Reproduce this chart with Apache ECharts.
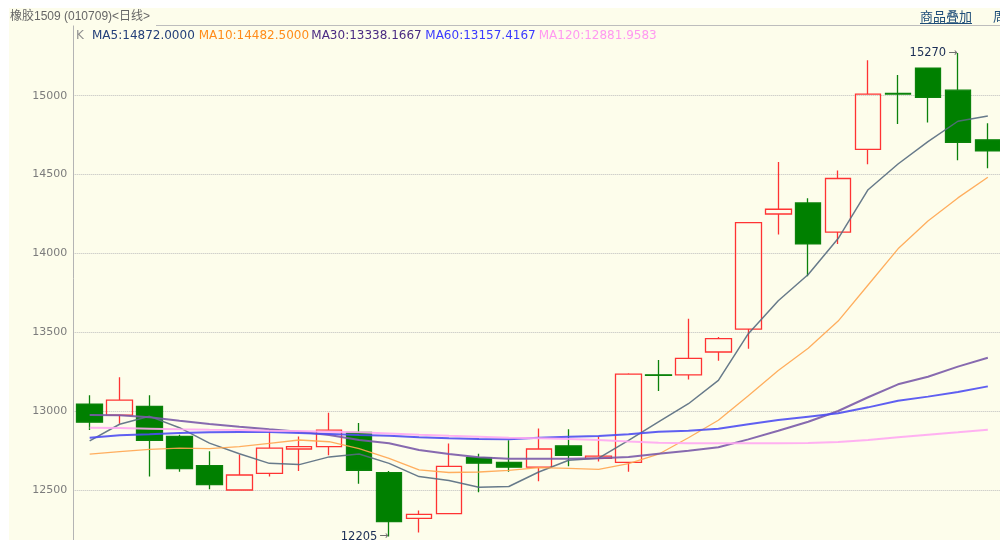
<!DOCTYPE html>
<html>
<head>
<meta charset="utf-8">
<script src="https://cdn.jsdelivr.net/npm/echarts@6/dist/echarts.min.js"></script>
<style>
html,body{margin:0;padding:0;background:#fff;}
#chart{width:1000px;height:540px;}
</style>
</head>
<body>
<div id="chart"></div>
<script>
// ---- data ----
const categories = ['1','2','3','4','5','6','7','8','9','10','11','12','13','14','15','16','17','18','19','20','21','22','23','24','25','26','27','28','29','30','31'];
const opens  = [13045,12975,13030,12840,12655,12500,12605,12760,12775,12865,12610,12320,12350,12705,12675,12645,12780,12700,12675,13230,13230,13375,13520,14250,14320,14135,14660,15015,15175,15035,14720];
const closes = [12930,13070,12815,12635,12535,12595,12765,12775,12880,12625,12300,12345,12650,12670,12645,12760,12720,12715,13235,13227,13335,13460,14195,14280,14060,14475,15010,15010,14990,14705,14650];
const lows   = [12880,12920,12585,12615,12505,12500,12585,12620,12720,12540,12205,12230,12350,12485,12615,12555,12650,12680,12615,13128,13200,13320,13395,14120,13855,14060,14565,14821,14830,14590,14540];
const highs  = [13100,13215,13100,12850,12745,12725,12880,12840,12990,12925,12620,12370,12795,12730,12815,12890,12885,12840,13240,13324,13585,13470,14195,14580,14350,14525,15225,15131,15175,15270,14825];
const ma5   = [12811,12917,12967,12895,12797,12730,12669,12661,12710,12728,12669,12585,12560,12518,12522,12614,12689,12702,12815,12932,13047,13195,13491,13700,13866,14094,14404,14567,14709,14838,14872];
const ma10  = [12728,12743,12758,12766,12762,12775,12796,12817,12806,12762,12700,12627,12611,12614,12625,12642,12637,12631,12667,12727,12831,12942,13097,13258,13399,13571,13800,14029,14205,14352,14483];
const ma30  = [12975,12974,12961,12939,12918,12901,12885,12870,12849,12817,12796,12754,12728,12707,12698,12698,12698,12701,12709,12730,12749,12771,12821,12876,12933,13001,13088,13170,13218,13282,13338];
const ma60  = [12832,12847,12853,12861,12866,12868,12868,12861,12855,12849,12844,12834,12828,12823,12821,12832,12838,12842,12854,12870,12876,12889,12917,12944,12965,12986,13024,13066,13092,13121,13157];
const ma120 = [12895,12893,12889,12885,12882,12880,12876,12874,12870,12866,12859,12851,12844,12838,12832,12828,12823,12817,12808,12800,12796,12796,12796,12796,12798,12804,12817,12834,12851,12866,12882];
const legendNames  = ['MA5','MA10','MA30','MA60','MA120'];
const legendValues = ['14872.0000','14482.5000','13338.1667','13157.4167','12881.9583'];
const yTicks = [12000,12500,13000,13500,14000,14500,15000,15500];
const titleText = '橡胶1509 (010709)<日线>';
const linkText = '商品叠加';
const linkText2 = '周';

// ---- styles ----
const lineColors   = ['#566C80','#FFA54F','#7A5AA8','#4E4EF2','#FFA8F2'];
const lineWidths   = [1.5,1.3,2,2,2];
const legendColors = ['#24407A','#FF8C1A','#4A2A82','#3A3AFF','#FF99F0'];
const legendX      = [92,198.7,311.3,425.3,538.7];

const chart = echarts.init(document.getElementById('chart'), null, {renderer:'canvas'});

const hiIdx = highs.indexOf(Math.max(...highs));
const loIdx = lows.indexOf(Math.min(...lows));

const maData = [ma5, ma10, ma30, ma60, ma120];
const lineSeries = maData.map((d, k) => ({
  type: 'line', name: legendNames[k], data: d, symbol: 'none', silent: true,
  z: 3 + k,
  lineStyle: {color: lineColors[k], width: lineWidths[k], opacity: 0.9}
}));

const graphics = [
  {type:'rect', shape:{x:0,y:0,width:9,height:540}, style:{fill:'#ffffff'}, z:200, silent:true},
  {type:'rect', shape:{x:0,y:0,width:1000,height:8}, style:{fill:'#ffffff'}, z:200, silent:true},
  {type:'rect', shape:{x:9,y:8,width:991,height:17.5}, style:{fill:'#FDFDEB'}, z:150, silent:true},
  {type:'line', shape:{x1:156,y1:25.5,x2:1000,y2:25.5}, style:{stroke:'#BDBDBD', lineWidth:1}, z:160, silent:true},
  {type:'text', x:10, y:17, style:{text:titleText, font:'12px "Liberation Sans","Noto Sans CJK SC"', fill:'#666666', verticalAlign:'middle'}, z:170, silent:true},
  {type:'text', x:920, y:16, style:{text:linkText, font:'13px "Noto Sans CJK SC"', fill:'#1F4E79', verticalAlign:'middle'}, z:170, silent:true},
  {type:'line', shape:{x1:920,y1:23.5,x2:972,y2:23.5}, style:{stroke:'#1F4E79', lineWidth:1}, z:170, silent:true},
  {type:'text', x:993, y:16, style:{text:linkText2, font:'13px "Noto Sans CJK SC"', fill:'#1F4E79', verticalAlign:'middle'}, z:170, silent:true},
  {type:'text', x:76, y:36, style:{text:'K', font:'12px "DejaVu Sans"', fill:'#909090', verticalAlign:'middle'}, z:170, silent:true}
].concat(legendNames.map((n, k) => ({
  type:'text', x:legendX[k], y:36,
  style:{text: n + ':' + legendValues[k], font:'12px "DejaVu Sans"', fill:legendColors[k], verticalAlign:'middle'},
  z:170, silent:true
})));

const option = {
  animation: false,
  backgroundColor: '#FDFDEB',
  grid: {left: 74.7, top: 16.84, width: 928.1, height: 552.02, containLabel: false, outerBoundsMode: 'none'},
  xAxis: {
    type: 'category', data: categories, boundaryGap: true,
    axisLine:{show:false}, axisTick:{show:false}, axisLabel:{show:false}, splitLine:{show:false}
  },
  yAxis: {
    type: 'value', min: yTicks[0], max: yTicks[yTicks.length-1], interval: 500, offset: 1.4,
    axisLine:{show:true, lineStyle:{color:'#B4B4B4', width:1}},
    axisTick:{show:false},
    axisLabel:{color:'#7C7C7C', fontSize:11, fontFamily:'DejaVu Sans', margin:6, showMaxLabel:false, formatter: v => String(v)},
    splitLine:{show:true, lineStyle:{color:'#BDBDBD', type:'dotted', width:1}}
  },
  series: [{
    type: 'candlestick', name: 'K', silent: true,
    data: opens.map((o, i) => [o, closes[i], lows[i], highs[i]]),
    barWidth: 26,
    z: 2,
    itemStyle: {color:'rgba(0,0,0,0)', color0:'#008000', borderColor:'#FF3333', borderColor0:'#0B820B', borderWidth:1.3},
    markPoint: {
      symbol: 'circle', symbolSize: 1, silent: true, animation: false,
      itemStyle: {color:'rgba(0,0,0,0)'},
      label: {
        show: true, position: 'left', distance: 0,
        formatter: p => '{v|' + p.value + '}{a|→}',
        rich: {
          v: {color:'#1A2D55', fontSize:11.5, fontFamily:'DejaVu Sans'},
          a: {color:'#707070', fontSize:11, fontFamily:'DejaVu Sans', padding:[0,0,0,2]}
        }
      },
      data: [
        {coord:[categories[hiIdx], highs[hiIdx]], value: highs[hiIdx]},
        {coord:[categories[loIdx], lows[loIdx]], value: lows[loIdx]}
      ]
    }
  }].concat(lineSeries),
  graphic: graphics
};
chart.setOption(option);
</script>
</body>
</html>
